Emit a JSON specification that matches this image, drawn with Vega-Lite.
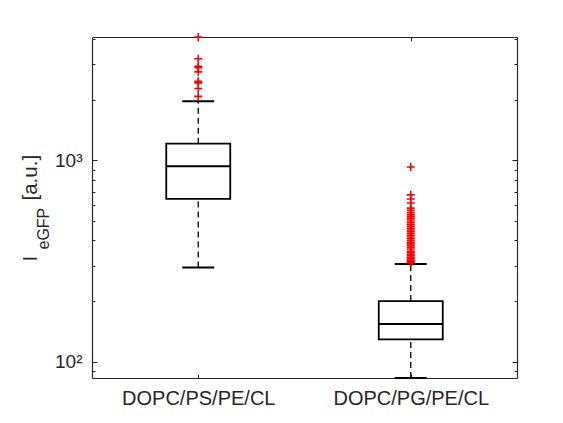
{
  "$schema": "https://vega.github.io/schema/vega-lite/v6.json",
  "width": 425,
  "height": 341,
  "autosize": "none",
  "padding": {"left": 92, "top": 37, "right": 46, "bottom": 45},
  "background": "white",
  "config": {
    "view": {"stroke": null},
    "font": "Liberation Sans",
    "axis": {"grid": false, "domainColor": "#262626", "domainWidth": 1.2, "tickColor": "#262626", "tickWidth": 1, "labelColor": "#262626", "titleColor": "#262626", "titleFontWeight": "normal", "labelFont": "Liberation Sans", "titleFont": "Liberation Sans"}
  },
  "datasets": {
    "stats": [
      {"group": "DOPC/PS/PE/CL", "lower": 294, "q1": 644, "median": 934, "q3": 1211, "upper": 1966},
      {"group": "DOPC/PG/PE/CL", "lower": 83, "q1": 129, "median": 154, "q3": 200, "upper": 306}
    ],
    "outliers": [
      {"group": "DOPC/PS/PE/CL", "value": 4100},
      {"group": "DOPC/PS/PE/CL", "value": 3195},
      {"group": "DOPC/PS/PE/CL", "value": 2936},
      {"group": "DOPC/PS/PE/CL", "value": 2882},
      {"group": "DOPC/PS/PE/CL", "value": 2753},
      {"group": "DOPC/PS/PE/CL", "value": 2472},
      {"group": "DOPC/PS/PE/CL", "value": 2427},
      {"group": "DOPC/PS/PE/CL", "value": 2274},
      {"group": "DOPC/PS/PE/CL", "value": 2080},
      {"group": "DOPC/PG/PE/CL", "value": 927},
      {"group": "DOPC/PG/PE/CL", "value": 674},
      {"group": "DOPC/PG/PE/CL", "value": 643},
      {"group": "DOPC/PG/PE/CL", "value": 614},
      {"group": "DOPC/PG/PE/CL", "value": 579},
      {"group": "DOPC/PG/PE/CL", "value": 565},
      {"group": "DOPC/PG/PE/CL", "value": 550},
      {"group": "DOPC/PG/PE/CL", "value": 536},
      {"group": "DOPC/PG/PE/CL", "value": 524},
      {"group": "DOPC/PG/PE/CL", "value": 512},
      {"group": "DOPC/PG/PE/CL", "value": 500},
      {"group": "DOPC/PG/PE/CL", "value": 490},
      {"group": "DOPC/PG/PE/CL", "value": 480},
      {"group": "DOPC/PG/PE/CL", "value": 470},
      {"group": "DOPC/PG/PE/CL", "value": 460},
      {"group": "DOPC/PG/PE/CL", "value": 451},
      {"group": "DOPC/PG/PE/CL", "value": 442},
      {"group": "DOPC/PG/PE/CL", "value": 433},
      {"group": "DOPC/PG/PE/CL", "value": 425},
      {"group": "DOPC/PG/PE/CL", "value": 416},
      {"group": "DOPC/PG/PE/CL", "value": 408},
      {"group": "DOPC/PG/PE/CL", "value": 400},
      {"group": "DOPC/PG/PE/CL", "value": 392},
      {"group": "DOPC/PG/PE/CL", "value": 385},
      {"group": "DOPC/PG/PE/CL", "value": 377},
      {"group": "DOPC/PG/PE/CL", "value": 370},
      {"group": "DOPC/PG/PE/CL", "value": 363},
      {"group": "DOPC/PG/PE/CL", "value": 353},
      {"group": "DOPC/PG/PE/CL", "value": 348},
      {"group": "DOPC/PG/PE/CL", "value": 342},
      {"group": "DOPC/PG/PE/CL", "value": 336},
      {"group": "DOPC/PG/PE/CL", "value": 330},
      {"group": "DOPC/PG/PE/CL", "value": 325},
      {"group": "DOPC/PG/PE/CL", "value": 320},
      {"group": "DOPC/PG/PE/CL", "value": 316},
      {"group": "DOPC/PG/PE/CL", "value": 312},
      {"group": "DOPC/PG/PE/CL", "value": 309}
    ]
  },
  "layer": [
    {
      "data": {"name": "stats"},
      "mark": {"type": "rule", "color": "black", "strokeWidth": 1.3, "strokeDash": [6, 4]},
      "encoding": {
        "x": {"field": "group", "type": "nominal", "scale": {"type": "point", "padding": 0.5, "domain": ["DOPC/PS/PE/CL", "DOPC/PG/PE/CL"]},
          "axis": {"orient": "bottom", "title": null, "ticks": false, "tickSize": 0, "domain": true, "labelFontSize": 20, "labelPadding": 10, "labelAngle": 0, "labelBaseline": "top", "labelAlign": "center"}},
        "y": {"field": "q3", "type": "quantitative", "scale": {"type": "log", "domain": [83, 4100], "nice": false},
          "axis": {"orient": "left", "values": [100, 1000], "labelExpr": "datum.value == 100 ? '10²' : '10³'", "ticks": false, "tickSize": 0, "domain": true, "labelFontSize": 19, "labelPadding": 10, "labelBaseline": "middle",
            "title": "[a.u.]", "titleX": -55.5, "titleY": 163, "titleAngle": -90, "titleAlign": "left", "titleBaseline": "alphabetic", "titleFontSize": 20.5}},
        "y2": {"field": "upper"}
      }
    },
    {
      "data": {"name": "stats"},
      "mark": {"type": "rule", "color": "black", "strokeWidth": 1.3, "strokeDash": [6, 4]},
      "encoding": {
        "x": {"field": "group", "type": "nominal", "scale": {"type": "point", "padding": 0.5, "domain": ["DOPC/PS/PE/CL", "DOPC/PG/PE/CL"]},
          "axis": {"orient": "bottom", "title": null, "labels": false, "domain": false, "ticks": true, "tickSize": -4}},
        "y": {"field": "lower", "type": "quantitative", "scale": {"type": "log", "domain": [83, 4100], "nice": false},
          "axis": {"orient": "left", "values": [100, 1000], "labels": false, "domain": false, "ticks": true, "tickSize": -5,
            "title": "I", "titleX": -55.5, "titleY": 224, "titleAngle": -90, "titleAlign": "left", "titleBaseline": "alphabetic", "titleFontSize": 20.5}},
        "y2": {"field": "q1"}
      }
    },
    {
      "data": {"name": "stats"},
      "mark": {"type": "bar", "width": 64, "fill": "white", "stroke": "black", "strokeWidth": 1.8},
      "encoding": {
        "x": {"field": "group", "type": "nominal", "scale": {"type": "point", "padding": 0.5, "domain": ["DOPC/PS/PE/CL", "DOPC/PG/PE/CL"]},
          "axis": {"orient": "top", "title": null, "labels": false, "domain": true, "ticks": true, "tickSize": -4}},
        "y": {"field": "q1", "type": "quantitative", "scale": {"type": "log", "domain": [83, 4100], "nice": false},
          "axis": {"orient": "left", "values": [90, 200, 300, 400, 500, 600, 700, 800, 900, 2000, 3000, 4000], "labels": false, "domain": false, "ticks": true, "tickSize": -3,
            "title": "eGFP", "titleX": -43.5, "titleY": 212, "titleAngle": -90, "titleAlign": "left", "titleBaseline": "alphabetic", "titleFontSize": 16}},
        "y2": {"field": "q3"}
      }
    },
    {
      "data": {"name": "stats"},
      "mark": {"type": "tick", "color": "black", "opacity": 1, "size": 64, "thickness": 2},
      "encoding": {
        "x": {"field": "group", "type": "nominal", "scale": {"type": "point", "padding": 0.5, "domain": ["DOPC/PS/PE/CL", "DOPC/PG/PE/CL"]}, "axis": null},
        "y": {"field": "median", "type": "quantitative", "scale": {"type": "log", "domain": [83, 4100], "nice": false},
          "axis": {"orient": "right", "values": [100, 1000], "labels": false, "domain": true, "ticks": true, "tickSize": -5, "title": null}}
      }
    },
    {
      "data": {"name": "stats"},
      "mark": {"type": "tick", "color": "black", "opacity": 1, "size": 32, "thickness": 2},
      "encoding": {
        "x": {"field": "group", "type": "nominal", "scale": {"type": "point", "padding": 0.5, "domain": ["DOPC/PS/PE/CL", "DOPC/PG/PE/CL"]}, "axis": null},
        "y": {"field": "upper", "type": "quantitative", "scale": {"type": "log", "domain": [83, 4100], "nice": false},
          "axis": {"orient": "right", "values": [90, 200, 300, 400, 500, 600, 700, 800, 900, 2000, 3000, 4000], "labels": false, "domain": false, "ticks": true, "tickSize": -3, "title": null}}
      }
    },
    {
      "data": {"name": "stats"},
      "mark": {"type": "tick", "color": "black", "opacity": 1, "size": 32, "thickness": 2},
      "encoding": {
        "x": {"field": "group", "type": "nominal", "scale": {"type": "point", "padding": 0.5, "domain": ["DOPC/PS/PE/CL", "DOPC/PG/PE/CL"]}, "axis": null},
        "y": {"field": "lower", "type": "quantitative", "scale": {"type": "log", "domain": [83, 4100], "nice": false}, "axis": null}
      }
    },
    {
      "data": {"name": "outliers"},
      "mark": {"type": "point", "shape": "M-1,0H1M0,-1V1", "filled": false, "stroke": "#ff0000", "strokeWidth": 1.6, "size": 64, "opacity": 1},
      "encoding": {
        "x": {"field": "group", "type": "nominal", "scale": {"type": "point", "padding": 0.5, "domain": ["DOPC/PS/PE/CL", "DOPC/PG/PE/CL"]}, "axis": null},
        "y": {"field": "value", "type": "quantitative", "scale": {"type": "log", "domain": [83, 4100], "nice": false}, "axis": null}
      }
    }
  ],
  "resolve": {"axis": {"x": "independent", "y": "independent"}}
}
